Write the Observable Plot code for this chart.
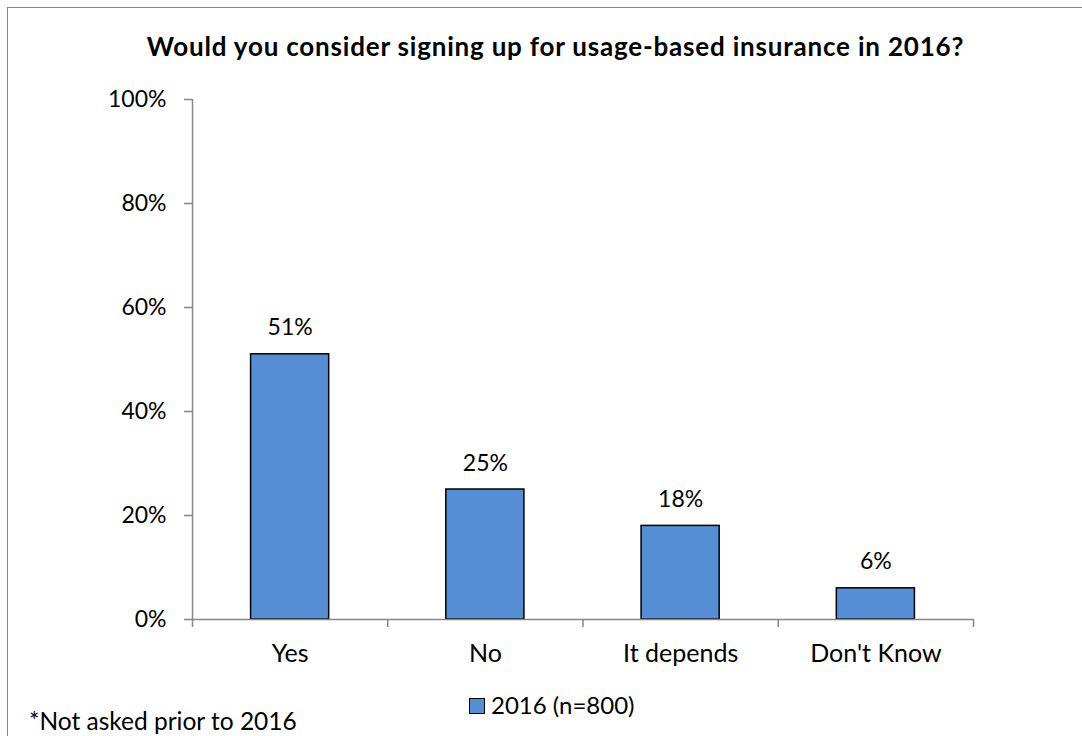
<!DOCTYPE html>
<html>
<head>
<meta charset="utf-8">
<script src="https://cdn.jsdelivr.net/npm/d3@7"></script>
<script src="https://cdn.jsdelivr.net/npm/@observablehq/plot@0.6"></script>
<style>
  html, body { margin: 0; padding: 0; background: #ffffff; }
  #wrap { position: relative; width: 1082px; height: 736px; overflow: hidden; font-family: Lato, "DejaVu Sans", sans-serif; color: #000; }
  #wrap svg { position: absolute; left: 0; top: 0; }
  .t { position: absolute; white-space: nowrap; line-height: 1.2; }
  #frame { position: absolute; left: 7px; top: 7px; width: 1200px; height: 800px; border-left: 1.5px solid #868686; border-top: 1.5px solid #868686; }
  #fig { left: 24px; top: -26px; font-size: 23px; font-weight: bold; }
  #title { left: 555.5px; top: 30.5px; transform: translateX(-50%); font-size: 26px; letter-spacing: 0.8px; font-weight: bold; }
  #legend-swatch { position: absolute; left: 469px; top: 698px; width: 14px; height: 14px; background: #558ED5; border: 1px solid #000; }
  #legend-text { left: 491px; top: 691px; font-size: 24px; }
  #foot { left: 29px; top: 706px; font-size: 24.5px; }
</style>
</head>
<body>
<div id="wrap">
  <div id="frame"></div>
  <div class="t" id="fig"></div>
  <div class="t" id="title"></div>
  <div id="legend-swatch"></div>
  <div class="t" id="legend-text"></div>
  <div class="t" id="foot"></div>
</div>
<script>
const figureLabel = "Figure 6";
const chartTitle = "Would you consider signing up for usage-based insurance in 2016?";
const categories = ["Yes", "No", "It depends", "Don't Know"];
const values = [0.51, 0.25, 0.18, 0.06];
const yTicks = [0, 0.2, 0.4, 0.6, 0.8, 1.0];
const seriesName = "2016 (n=800)";
const footnote = "*Not asked prior to 2016";

document.getElementById("fig").textContent = figureLabel;
document.getElementById("title").textContent = chartTitle;
document.getElementById("legend-text").textContent = seriesName;
document.getElementById("foot").textContent = footnote;

const n = categories.length;
const data = categories.map((c, i) => ({category: c, value: values[i], index: i}));
const grey = "#868686";
const pct = d3.format(".0%");

const chart = Plot.plot({
  width: 1082,
  height: 736,
  marginLeft: 192,
  marginRight: 109,
  marginTop: 99,
  marginBottom: 117,
  style: {fontFamily: "Lato, 'DejaVu Sans', sans-serif", fontSize: "23px", color: "#000", background: "transparent", overflow: "visible"},
  x: {type: "linear", domain: [0, n], axis: null},
  y: {domain: [0, 1], axis: null},
  marks: [
    Plot.rectY(data, {x1: d => d.index + 0.3, x2: d => d.index + 0.7, y1: 0, y2: "value", fill: "#558ED5", stroke: "#000", strokeWidth: 1.5}),
    Plot.ruleY([0], {stroke: grey, strokeWidth: 1.5}),
    Plot.ruleX([0], {stroke: grey, strokeWidth: 1.5}),
    Plot.axisX(d3.range(n + 1), {tickSize: 8, tickFormat: () => "", stroke: grey, strokeWidth: 1.5, label: null}),
    Plot.axisX(d3.range(n).map(i => i + 0.5), {tickSize: 0, tickPadding: 25, tickFormat: v => categories[Math.floor(v)], fontSize: 25, fill: "#000", label: null}),
    Plot.axisY(yTicks, {tickSize: 8, tickPadding: 18, tickFormat: pct, stroke: grey, strokeWidth: 1.5, fontSize: 23, fill: "#000", label: null}),
    Plot.text(data, {x: d => d.index + 0.5, y: "value", text: d => pct(d.value), lineAnchor: "bottom", dy: -19, fontSize: 23, fill: "#000"})
  ]
});
document.getElementById("wrap").appendChild(chart);
</script>
</body>
</html>
